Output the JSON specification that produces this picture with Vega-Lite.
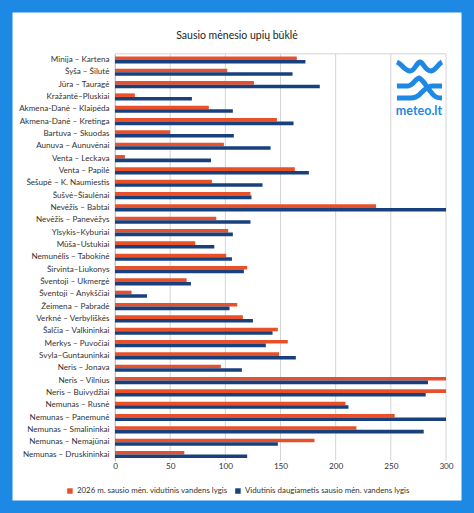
{"$schema":"https://vega.github.io/schema/vega-lite/v6.json","width":474,"height":513,"padding":0,"autosize":{"type":"none"},"background":"#ffffff","view":{"stroke":"#1e88e5","strokeWidth":25,"fill":"#ffffff"},"title":{"text":"Sausio mėnesio upių būklė","font":"Lato","fontSize":10.5,"fontWeight":"normal","color":"#222222","anchor":"middle","offset":-41},"config":{"font":"Lato"},"resolve":{"scale":{"y":"independent"}},"layer":[{"data":{"values":[{"tick":0},{"tick":50},{"tick":100},{"tick":150},{"tick":200},{"tick":250},{"tick":300}]},"mark":{"type":"rule","color":"#d4d4d4","strokeWidth":1},"encoding":{"x":{"field":"tick","type":"quantitative","scale":{"domain":[0,300],"range":[115,446]},"axis":{"title":null,"offset":-52.3,"values":[0,50,100,150,200,250,300],"grid":false,"domain":false,"ticks":false,"labelPadding":2,"labelFlush":false,"labelFont":"Lato","labelFontSize":8.2,"labelColor":"#333333"}},"y":{"datum":0,"type":"quantitative","scale":{"domain":[0,1],"range":[460.7,53.8]},"axis":null},"y2":{"datum":1}}},{"data":{"values":[{"series":"top"}]},"mark":{"type":"rule","color":"#d4d4d4","strokeWidth":1},"encoding":{"x":{"datum":0,"type":"quantitative"},"x2":{"datum":300},"y":{"datum":1,"type":"quantitative","scale":{"domain":[0,1],"range":[460.7,53.8]},"axis":null}}},{"data":{"values":[
{"river":"Minija – Kartena","series":"a","value":164.8},{"river":"Minija – Kartena","series":"b","value":172.6},
{"river":"Šyša – Šilutė","series":"a","value":101.7},{"river":"Šyša – Šilutė","series":"b","value":160.9},
{"river":"Jūra – Tauragė","series":"a","value":125.9},{"river":"Jūra – Tauragė","series":"b","value":185.6},
{"river":"Kražantė–Pluskiai","series":"a","value":18},{"river":"Kražantė–Pluskiai","series":"b","value":69.7},
{"river":"Akmena-Danė – Klaipėda","series":"a","value":85},{"river":"Akmena-Danė – Klaipėda","series":"b","value":106.8},
{"river":"Akmena-Danė – Kretinga","series":"a","value":146.7},{"river":"Akmena-Danė – Kretinga","series":"b","value":161.8},
{"river":"Bartuva – Skuodas","series":"a","value":50},{"river":"Bartuva – Skuodas","series":"b","value":107.7},
{"river":"Aunuva – Aunuvėnai","series":"a","value":98.7},{"river":"Aunuva – Aunuvėnai","series":"b","value":141},
{"river":"Venta – Leckava","series":"a","value":9},{"river":"Venta – Leckava","series":"b","value":87},
{"river":"Venta – Papilė","series":"a","value":163},{"river":"Venta – Papilė","series":"b","value":175.7},
{"river":"Šešupė – K. Naumiestis","series":"a","value":87.8},{"river":"Šešupė – K. Naumiestis","series":"b","value":133.7},
{"river":"Šušvė–Šiaulėnai","series":"a","value":122.8},{"river":"Šušvė–Šiaulėnai","series":"b","value":123.7},
{"river":"Nevėžis – Babtai","series":"a","value":236.6},{"river":"Nevėžis – Babtai","series":"b","value":300},
{"river":"Nevėžis – Panevėžys","series":"a","value":91.8},{"river":"Nevėžis – Panevėžys","series":"b","value":122.8},
{"river":"Ylsykis–Kyburiai","series":"a","value":102.6},{"river":"Ylsykis–Kyburiai","series":"b","value":106.8},
{"river":"Mūša–Ustukiai","series":"a","value":72.7},{"river":"Mūša–Ustukiai","series":"b","value":90},
{"river":"Nemunėlis – Tabokinė","series":"a","value":100.8},{"river":"Nemunėlis – Tabokinė","series":"b","value":106},
{"river":"Širvinta–Liukonys","series":"a","value":119.8},{"river":"Širvinta–Liukonys","series":"b","value":116.8},
{"river":"Šventoji – Ukmergė","series":"a","value":64.9},{"river":"Šventoji – Ukmergė","series":"b","value":68.8},
{"river":"Šventoji – Anykščiai","series":"a","value":15},{"river":"Šventoji – Anykščiai","series":"b","value":29},
{"river":"Žeimena – Pabradė","series":"a","value":110.8},{"river":"Žeimena – Pabradė","series":"b","value":103.8},
{"river":"Verknė – Verbyliškės","series":"a","value":115.9},{"river":"Verknė – Verbyliškės","series":"b","value":125},
{"river":"Šalčia – Valkininkai","series":"a","value":147.6},{"river":"Šalčia – Valkininkai","series":"b","value":142.8},
{"river":"Merkys – Puvočiai","series":"a","value":156.6},{"river":"Merkys – Puvočiai","series":"b","value":136.7},
{"river":"Svyla–Guntauninkai","series":"a","value":148.8},{"river":"Svyla–Guntauninkai","series":"b","value":163.9},
{"river":"Neris – Jonava","series":"a","value":96},{"river":"Neris – Jonava","series":"b","value":115},
{"river":"Neris – Vilnius","series":"a","value":300},{"river":"Neris – Vilnius","series":"b","value":283.7},
{"river":"Neris – Buivydžiai","series":"a","value":300},{"river":"Neris – Buivydžiai","series":"b","value":281.6},
{"river":"Nemunas – Rusnė","series":"a","value":208.9},{"river":"Nemunas – Rusnė","series":"b","value":211.6},
{"river":"Nemunas – Panemunė","series":"a","value":253.5},{"river":"Nemunas – Panemunė","series":"b","value":300},
{"river":"Nemunas – Smalininkai","series":"a","value":218.8},{"river":"Nemunas – Smalininkai","series":"b","value":279.8},
{"river":"Nemunas – Nemajūnai","series":"a","value":180.8},{"river":"Nemunas – Nemajūnai","series":"b","value":147.6},
{"river":"Nemunas – Druskininkai","series":"a","value":62.8},{"river":"Nemunas – Druskininkai","series":"b","value":119.8}
]},"transform":[{"lookup":"series","from":{"data":{"values":[{"series":"a","name":"2026 m. sausio mėn. vidutinis vandens lygis"},{"series":"b","name":"Vidutinis daugiametis sausio mėn. vandens lygis"}]},"key":"series","fields":["name"]}}],"mark":{"type":"bar"},"encoding":{"y":{"field":"river","type":"nominal","sort":null,"scale":{"range":[53.8,460.7],"paddingInner":0.42,"paddingOuter":0.21},"axis":{"title":null,"offset":-115,"domainColor":"#b5b5b5","ticks":false,"labelPadding":6,"labelFont":"Lato","labelFontSize":8.1,"labelColor":"#333333","labelLimit":0}},"yOffset":{"field":"series","type":"nominal","sort":["a","b"]},"x":{"field":"value","type":"quantitative"},"color":{"field":"name","type":"nominal","scale":{"range":["#e8502a","#17407c"]},"legend":{"title":null,"orient":"none","legendX":66,"legendY":487,"direction":"horizontal","columns":2,"symbolType":"square","symbolSize":30,"symbolStrokeWidth":0,"labelFont":"Lato","labelFontSize":7.9,"labelColor":"#333333","labelLimit":0,"columnPadding":6,"labelOffset":3}}}},{"data":{"values":[{"label":"meteo.lt"}]},"mark":{"type":"text","font":"Lato","fontWeight":"bold","fontSize":12.5,"color":"#1e88e5","align":"center","baseline":"middle"},"encoding":{"text":{"field":"label"},"x":{"datum":275.5,"type":"quantitative"},"y":{"datum":0.859,"type":"quantitative","scale":{"domain":[0,1],"range":[460.7,53.8]},"axis":null}}},{"data":{"values":[{"label":"logo"}]},"mark":{"type":"point","filled":false,"size":4,"strokeWidth":5,"opacity":1,"color":"#1e88e5","shape":"M-23,-18 C-18,-16 -16,-10 -10,-9 C-5,-9 -4,-17 0,-18 C4,-17 5,-9 11,-9 C16,-10 18,-16 22,-18 M-23,6 L-12,6 C-7,6 -5,-1 -1,-2 C3,-1 7,8 11,12 C14,17 17,18 22,18 M22,6 L12,6 C8,6 4,10 1,13 C-2,17 -5,18 -10,18 L-23,18"},"encoding":{"x":{"datum":276.4,"type":"quantitative"},"y":{"datum":0.9356,"type":"quantitative","scale":{"domain":[0,1],"range":[460.7,53.8]},"axis":null}}}]}
